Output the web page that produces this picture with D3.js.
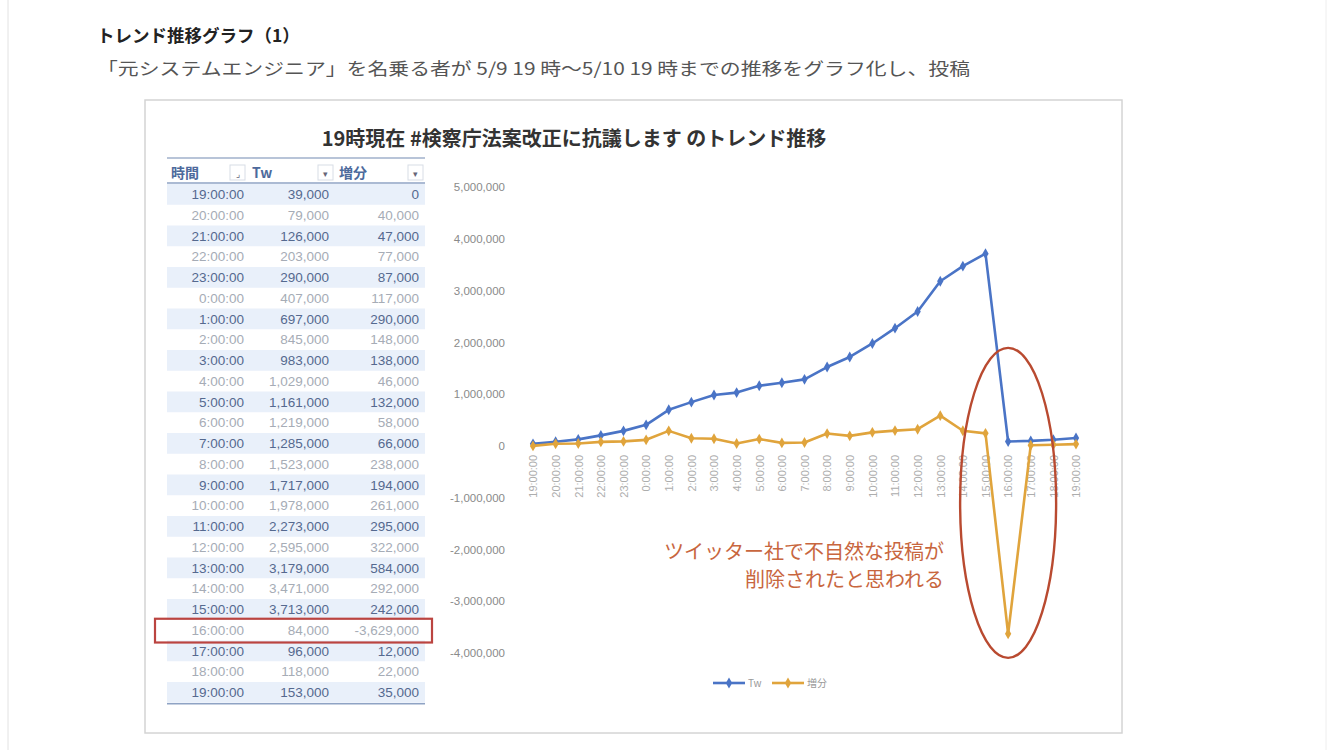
<!DOCTYPE html>
<html>
<head>
<meta charset="utf-8">
<script src="https://cdn.jsdelivr.net/npm/d3@7"></script>
<style>
  body { margin: 0; background: #fff; }
  svg { display: block; font-family: "Noto Sans CJK JP", "Liberation Sans", sans-serif; }
</style>
</head>
<body>
<div id="chart"></div>
<script>
// hourly readings, 5/9 19:00 -> 5/10 19:00
const times = ['19:00:00', '20:00:00', '21:00:00', '22:00:00', '23:00:00',
  '0:00:00', '1:00:00', '2:00:00', '3:00:00', '4:00:00', '5:00:00', '6:00:00',
  '7:00:00', '8:00:00', '9:00:00', '10:00:00', '11:00:00', '12:00:00',
  '13:00:00', '14:00:00', '15:00:00', '16:00:00', '17:00:00', '18:00:00', '19:00:00'];
const tw = [39000, 79000, 126000, 203000, 290000, 407000, 697000, 845000, 983000,
  1029000, 1161000, 1219000, 1285000, 1523000, 1717000, 1978000, 2273000,
  2595000, 3179000, 3471000, 3713000, 84000, 96000, 118000, 153000];
const diff = [0, 40000, 47000, 77000, 87000, 117000, 290000, 148000, 138000,
  46000, 132000, 58000, 66000, 238000, 194000, 261000, 295000, 322000, 584000,
  292000, 242000, -3629000, 12000, 22000, 35000];
const yTicks = [-4000000, -3000000, -2000000, -1000000, 0, 1000000, 2000000, 3000000, 4000000, 5000000];
const seriesNames = ['Tw', '増分'];
const noteLines = ['ツイッター社で不自然な投稿が', '削除されたと思われる'];

const blue = '#4a74c6';
const gold = '#e0a43c';

const svg = d3.select('#chart').append('svg')
  .attr('width', 1334)
  .attr('height', 750);

// slide edges
svg.append('line').attr('x1', 8).attr('x2', 8).attr('y1', 0).attr('y2', 750)
  .attr('stroke', '#e2e2e2');
svg.append('line').attr('x1', 1326).attr('x2', 1326).attr('y1', 0).attr('y2', 750)
  .attr('stroke', '#eeeeee');

svg.append('text')
  .attr('x', 97).attr('y', 42)
  .style('font-size', '17.5px').style('font-weight', 'bold').style('fill', '#222')
  .text('トレンド推移グラフ（1）');

svg.append('text')
  .attr('x', 97).attr('y', 75)
  .style('font-size', '17px').style('fill', '#555')
  .attr('textLength', 873).attr('lengthAdjust', 'spacingAndGlyphs')
  .text('「元システムエンジニア」を名乗る者が 5/9 19 時～5/10 19 時までの推移をグラフ化し、投稿');

// pasted picture frame
svg.append('rect')
  .attr('x', 145).attr('y', 100).attr('width', 977).attr('height', 633)
  .attr('fill', '#fff').attr('stroke', '#d4d4d4').attr('stroke-width', 1.5);

svg.append('text')
  .attr('x', 574).attr('y', 146)
  .attr('text-anchor', 'middle')
  .style('font-size', '20px').style('font-weight', 'bold').style('fill', '#333')
  .text('19時現在 #検察庁法案改正に抗議します のトレンド推移');

// ---- table ----
const rowH = 20.75;
const tableTop = 184;
const tbl = svg.append('g').style('font-family', '"Liberation Sans", Arial, sans-serif');

tbl.append('line').attr('x1', 167).attr('x2', 425).attr('y1', 158).attr('y2', 158)
  .attr('stroke', '#b8c4d8').attr('stroke-width', 2);
tbl.append('line').attr('x1', 167).attr('x2', 425).attr('y1', 183).attr('y2', 183)
  .attr('stroke', '#8fa3c4').attr('stroke-width', 1.5);

const headers = [
  { label: '時間', x: 171, box: 230, glyph: '⌟' },
  { label: 'Tw', x: 252, box: 318, glyph: '▾' },
  { label: '増分', x: 339, box: 408, glyph: '▾' }
];
headers.forEach(h => {
  tbl.append('text')
    .attr('x', h.x).attr('y', 178)
    .style('font-family', '"Noto Sans CJK JP", sans-serif')
    .style('font-size', '14px').style('font-weight', 'bold').style('fill', '#4d6a9c')
    .text(h.label);
  tbl.append('rect')
    .attr('x', h.box).attr('y', 165).attr('width', 15).attr('height', 15)
    .attr('fill', '#fff').attr('stroke', '#d8dde6');
  tbl.append('text')
    .attr('x', h.box + 7.5).attr('y', 177)
    .attr('text-anchor', 'middle')
    .style('font-size', '9px').style('fill', '#667')
    .text(h.glyph);
});

const fmt = d3.format(',');
const rows = tbl.selectAll('.row')
  .data(times.map((t, i) => ({ t, tw: tw[i], diff: diff[i], i })))
  .enter().append('g')
  .attr('class', 'row')
  .attr('transform', d => `translate(0, ${tableTop + d.i * rowH})`);

rows.filter(d => d.i % 2 === 0).append('rect')
  .attr('x', 167).attr('width', 258).attr('height', rowH)
  .attr('fill', '#e9f0fa');

const cellColor = d => d.i % 2 === 0 ? '#55698f' : '#a6acb6';
[['t', 244], ['tw', 329], ['diff', 419]].forEach(([key, x]) => {
  rows.append('text')
    .attr('x', x).attr('y', 15)
    .attr('text-anchor', 'end')
    .style('font-size', '13.5px')
    .style('fill', cellColor)
    .text(d => key === 't' ? d.t : fmt(d[key]).replace('−', '-'));
});

tbl.append('line').attr('x1', 167).attr('x2', 425)
  .attr('y1', tableTop + times.length * rowH + 1).attr('y2', tableTop + times.length * rowH + 1)
  .attr('stroke', '#8fa3c4').attr('stroke-width', 1.5);

// red box around the 16:00 row
const hi = times.length - 4;
svg.append('rect')
  .attr('x', 155).attr('y', tableTop + hi * rowH - 1)
  .attr('width', 277).attr('height', rowH + 3)
  .attr('fill', 'none').attr('stroke', '#bb4440').attr('stroke-width', 2.2);

// ---- chart ----
const x = d3.scalePoint()
  .domain(d3.range(times.length))
  .range([533, 1076]);
const y = d3.scaleLinear()
  .domain([-4000000, 5000000])
  .range([653, 187]);

const yAxis = svg.append('g')
  .attr('transform', 'translate(533,0)')
  .call(d3.axisLeft(y).tickValues(yTicks).tickSize(0).tickPadding(28)
    .tickFormat(d => fmt(d).replace('−', '-')));
yAxis.select('.domain').remove();
yAxis.selectAll('text')
  .style('font-family', '"Liberation Sans Narrow", "Liberation Sans", sans-serif')
  .style('font-size', '11.5px').style('fill', '#8a8a8a');

const xAxis = svg.append('g')
  .attr('transform', `translate(0, ${y(0)})`)
  .call(d3.axisBottom(x).tickSize(0).tickFormat(i => times[i]));
xAxis.select('.domain').remove();
xAxis.selectAll('text')
  .attr('transform', 'rotate(-90)')
  .attr('x', -9).attr('y', 0).attr('dy', '0.35em')
  .attr('text-anchor', 'end')
  .style('font-family', '"Liberation Sans", sans-serif')
  .style('font-size', '11px').style('fill', '#adadad');

const line = d3.line()
  .x((d, i) => x(i))
  .y(d => y(d));
const diamond = d3.symbol().type(d3.symbolDiamond).size(34);

[[tw, blue], [diff, gold]].forEach(([vals, col]) => {
  svg.append('path')
    .datum(vals)
    .attr('fill', 'none')
    .attr('stroke', col)
    .attr('stroke-width', 2.6)
    .attr('stroke-linejoin', 'round')
    .attr('d', line);
  svg.append('g').selectAll('path')
    .data(vals)
    .enter().append('path')
    .attr('transform', (d, i) => `translate(${x(i)},${y(d)})`)
    .attr('d', diamond)
    .attr('fill', col);
});

// legend
const legend = svg.append('g').attr('transform', 'translate(713, 683)');
seriesNames.forEach((name, i) => {
  const g = legend.append('g').attr('transform', `translate(${i * 59}, 0)`);
  g.append('line').attr('x1', 0).attr('x2', 32)
    .attr('stroke', i === 0 ? blue : gold).attr('stroke-width', 2.6);
  g.append('path').attr('transform', 'translate(16,0)').attr('d', diamond)
    .attr('fill', i === 0 ? blue : gold);
  g.append('text').attr('x', 35).attr('y', 4)
    .style('font-size', '10px').style('fill', '#999')
    .text(name);
});

// annotation: ellipse round the 16:00 drop
svg.append('ellipse')
  .attr('cx', x(hi)).attr('cy', y(-1100000))
  .attr('rx', 48).attr('ry', 155)
  .attr('fill', 'none').attr('stroke', '#b94a30').attr('stroke-width', 2.4);

svg.selectAll('.note')
  .data(noteLines)
  .enter().append('text')
  .attr('class', 'note')
  .attr('x', 944).attr('y', (d, i) => 559 + i * 28)
  .attr('text-anchor', 'end')
  .style('font-size', '20px').style('fill', '#c8663e')
  .text(d => d);
</script>
</body>
</html>
